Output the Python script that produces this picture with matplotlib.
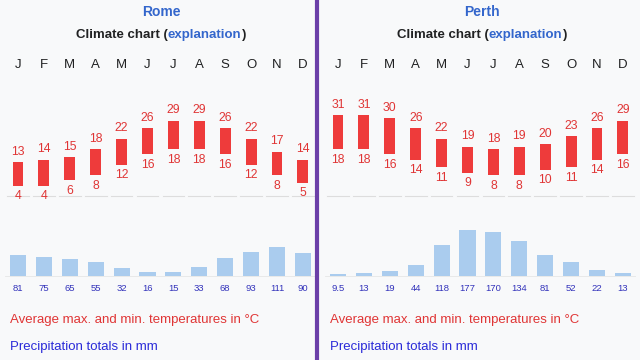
import matplotlib.pyplot as plt
import numpy as np

plt.rcParams['font.family'] = ['Liberation Sans', 'DejaVu Sans']

# Data
months = ['J', 'F', 'M', 'A', 'M', 'J', 'J', 'A', 'S', 'O', 'N', 'D']
cities = ['Rome', 'Perth']
rome_max = [13, 14, 15, 18, 22, 26, 29, 29, 26, 22, 17, 14]
rome_min = [4, 4, 6, 8, 12, 16, 18, 18, 16, 12, 8, 5]
rome_prec = [81, 75, 65, 55, 32, 16, 15, 33, 68, 93, 111, 90]
rome_prec_labels = ['81', '75', '65', '55', '32', '16', '15', '33', '68', '93', '111', '90']
perth_max = [31, 31, 30, 26, 22, 19, 18, 19, 20, 23, 26, 29]
perth_min = [18, 18, 16, 14, 11, 9, 8, 8, 10, 11, 14, 16]
perth_prec = [9.5, 13, 19, 44, 118, 177, 170, 134, 81, 52, 22, 13]
perth_prec_labels = ['9.5', '13', '19', '44', '118', '177', '170', '134', '81', '52', '22', '13']

W, H = 640, 360
BG = '#f8f9fa'
RED = '#ee3b3b'
RED_TXT = '#e03535'
BLUE_BAR = '#aaccee'
BLUE_TXT = '#3333bb'
LINK = '#3366cc'

fig = plt.figure(figsize=(W / 100, H / 100), dpi=100, facecolor=BG)


def px_axes(x0, y0, x1, y1):
    # pixel box (top-left origin) -> axes
    ax = fig.add_axes([x0 / W, 1 - y1 / H, (x1 - x0) / W, (y1 - y0) / H])
    ax.set_facecolor('none')
    ax.axis('off')
    return ax


step = 25.9
temp_zero, temp_scale = 196, 2.6   # pixel of 0 °C, px per degree
prec_zero, prec_scale = 276, 0.26  # pixel of 0 mm, px per mm

panels = [
    (cities[0], 18, 161, rome_max, rome_min, rome_prec, rome_prec_labels),
    (cities[1], 338, 482, perth_max, perth_min, perth_prec, perth_prec_labels),
]

x = np.arange(len(months))
for name, x_first, x_title, tmax, tmin, prec, plabels in panels:
    left = x_first - step / 2
    right = left + 12 * step

    # header
    fig.text(x_title / W, 1 - 12 / H, name, ha='center', va='center',
             fontsize=10, fontweight='bold', color=LINK)
    # measure full title, then draw it in coloured pieces
    tt = fig.text(x_title / W, 1 - 35 / H, 'Climate chart (explanation)', ha='center',
                  va='center', fontsize=9.5, fontweight='bold')
    fig.canvas.draw()
    xs = tt.get_window_extent().x0 / W
    tt.remove()
    for txt, col in [('Climate chart (', '#202122'), ('explanation', LINK), (')', '#202122')]:
        t = fig.text(xs, 1 - 35 / H, txt, ha='left', va='center', fontsize=9.5,
                     fontweight='bold', color=col)
        fig.canvas.draw()
        xs = t.get_window_extent().x1 / W

    # month labels
    for i, m in enumerate(months):
        fig.text((x_first + i * step) / W, 1 - 65 / H, m, ha='center', va='center',
                 fontsize=9.5, color='#202122')

    # temperature
    ay0, ay1 = 80, 210
    ax = px_axes(left, ay0, right, ay1)
    ax.set_xlim(-0.5, 11.5)
    ax.set_ylim(-(ay1 - temp_zero) / temp_scale, (temp_zero - ay0) / temp_scale)
    ax.bar(x, np.array(tmax) - np.array(tmin), bottom=tmin, width=0.42, color=RED)
    for i in range(12):
        ax.plot([i - 0.42, i + 0.42], [0, 0], color='#dddddd', lw=0.8)
        ax.annotate(str(tmax[i]), (i, tmax[i]), xytext=(0, 7.5), textcoords='offset points',
                    ha='center', va='center', fontsize=8.8, color=RED_TXT)
        ax.annotate(str(tmin[i]), (i, tmin[i]), xytext=(0, -7.5), textcoords='offset points',
                    ha='center', va='center', fontsize=8.8, color=RED_TXT)

    # precipitation
    py0, py1 = 210, 300
    axp = px_axes(left, py0, right, py1)
    axp.set_xlim(-0.5, 11.5)
    axp.set_ylim(-(py1 - prec_zero) / prec_scale, (prec_zero - py0) / prec_scale)
    axp.bar(x, prec, width=0.62, color=BLUE_BAR)
    axp.plot([-0.5, 11.5], [0, 0], color='#e6e6e6', lw=0.6)
    for i in range(12):
        axp.annotate(plabels[i], (i, 0), xytext=(0, -8.8), textcoords='offset points',
                     ha='center', va='center', fontsize=6.8, color=BLUE_TXT)

    # legend texts
    lx = left + 5
    fig.text(lx / W, 1 - 320 / H, 'Average max. and min. temperatures in °C',
             ha='left', va='center', fontsize=9.5, color=RED_TXT)
    fig.text(lx / W, 1 - 347 / H, 'Precipitation totals in mm',
             ha='left', va='center', fontsize=9.5, color='#2a2ad8')

# purple divider
fig.add_artist(plt.Line2D([317 / W, 317 / W], [0, 1], color='#6b3fa8', lw=3))

fig.savefig('out.png', dpi=100, facecolor=BG)
